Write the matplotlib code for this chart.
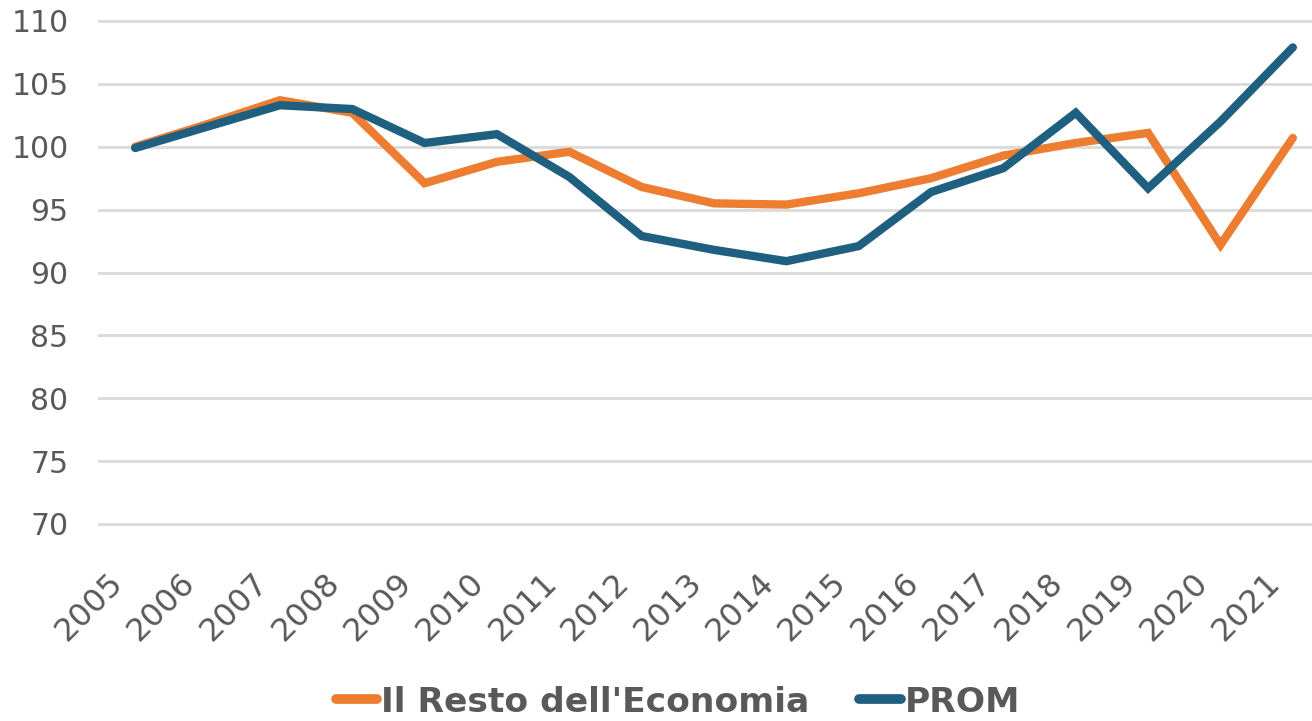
import matplotlib
matplotlib.use("Agg")
import matplotlib.pyplot as plt
from matplotlib.lines import Line2D
from matplotlib.transforms import ScaledTranslation

years = ["2005", "2006", "2007", "2008", "2009", "2010", "2011", "2012", "2013",
         "2014", "2015", "2016", "2017", "2018", "2019", "2020", "2021"]
resto = [100.0, 101.8, 103.7, 102.7, 97.1, 98.8, 99.6, 96.8, 95.5,
         95.4, 96.3, 97.5, 99.3, 100.3, 101.1, 92.2, 100.7]
prom = [99.9, 101.6, 103.3, 103.0, 100.3, 101.0, 97.6, 92.9, 91.8,
        90.9, 92.1, 96.4, 98.3, 102.7, 96.7, 102.0, 107.9]
series_names = ["Il Resto dell'Economia", "PROM"]
yticks = [70, 75, 80, 85, 90, 95, 100, 105, 110]

c_orange = "#ED7D31"
c_blue = "#1F5F7F"
c_text = "#595959"
c_grid = "#DCDCDC"

plt.rcParams['font.family'] = ['DejaVu Sans']

fig = plt.figure(figsize=(13.12, 7.21), dpi=100)
ax = fig.add_axes([99/1312, 1-524/721, 1230/1312, (524-21)/721])

x = list(range(len(years)))
ax.plot(x, resto, color=c_orange, lw=6, solid_joinstyle='miter', solid_capstyle='round', zorder=3)
ax.plot(x, prom, color=c_blue, lw=6, solid_joinstyle='miter', solid_capstyle='round', zorder=4)

ax.set_xlim(-0.5, len(years) - 0.5)
ax.set_ylim(70, 110)
ax.set_yticks(yticks)
ax.set_yticklabels([str(v) for v in yticks])
ax.set_xticks(x)
ax.set_xticklabels(years, rotation=45, ha='right', va='top', rotation_mode='anchor')

ax.grid(axis='y', color=c_grid, lw=2.2)
for gl in ax.get_ygridlines():
    gl.set_clip_on(False)
ax.set_axisbelow(True)
for s in ax.spines.values():
    s.set_visible(False)
ax.tick_params(axis='both', length=0, colors=c_text)
ax.tick_params(axis='y', pad=22, labelsize=21.5)
ax.tick_params(axis='x', pad=31, labelsize=23)

shift = ScaledTranslation(-0.28, 0, fig.dpi_scale_trans)
for lab in ax.get_xticklabels():
    lab.set_transform(lab.get_transform() + shift)

handles = [Line2D([], [], color=c_orange, lw=7, solid_capstyle='round'),
           Line2D([], [], color=c_blue, lw=7, solid_capstyle='round')]
leg = fig.legend(handles, series_names, loc='center', bbox_to_anchor=(678/1312, 1-702/721),
                 ncol=2, frameon=False, handlelength=1.2, handletextpad=0.12,
                 columnspacing=1.45, prop={'size': 24.8, 'weight': 'bold'})
for t in leg.get_texts():
    t.set_color(c_text)

fig.savefig("out.png", dpi=100)
